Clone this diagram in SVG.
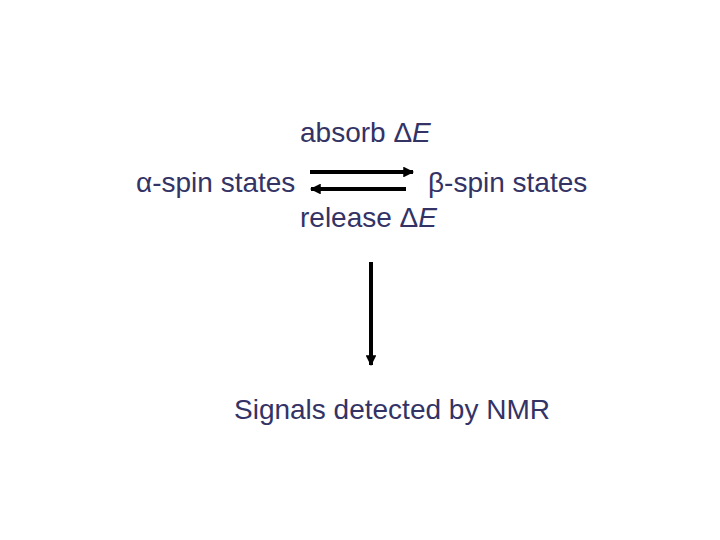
<svg xmlns="http://www.w3.org/2000/svg" width="720" height="540" viewBox="0 0 720 540">
<style>
text{font-family:"Liberation Sans",Arial,sans-serif;font-size:28px;fill:#333366}
.it{font-style:italic}
.c{stroke:#000;stroke-width:4;fill:none}
</style>
<defs>
<marker id="ah" viewBox="0 0 10 10" refX="9" refY="5" markerWidth="3" markerHeight="2.7" orient="auto" markerUnits="strokeWidth">
<path d="M0,0L10,5L0,10z" fill="#000"/>
</marker>
</defs>
<rect width="720" height="540" fill="#fff"/>
<g id="absorb"><text x="300" y="142">absorb Δ<tspan class="it">E</tspan></text></g>
<g id="alpha"><text x="136" y="192">α-spin states</text></g>
<g id="beta"><text x="428" y="192">β-spin states</text></g>
<g id="release"><text x="300" y="227">release Δ<tspan class="it">E</tspan></text></g>
<g id="signals"><text x="234" y="419">Signals detected by NMR</text></g>
<g id="connectors">
<line class="c" x1="310" y1="172" x2="413" y2="172" marker-end="url(#ah)"/>
<line class="c" x1="406" y1="189" x2="311" y2="189" marker-end="url(#ah)"/>
<line class="c" x1="371" y1="262" x2="371" y2="365" marker-end="url(#ah)"/>
</g>
</svg>
